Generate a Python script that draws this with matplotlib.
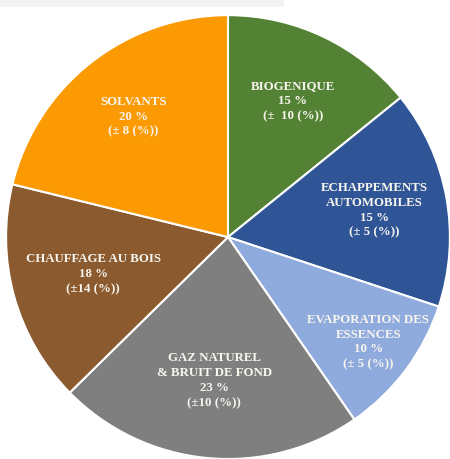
import numpy as np
import matplotlib
matplotlib.use('Agg')
import matplotlib.pyplot as plt
from matplotlib.patches import Rectangle

categories = ['BIOGENIQUE', 'ECHAPPEMENTS\nAUTOMOBILES', 'EVAPORATION DES\nESSENCES',
              'GAZ NATUREL\n& BRUIT DE FOND', 'CHAUFFAGE AU BOIS', 'SOLVANTS']
shares = [14.2, 15.9, 10.3, 22.3, 16.2, 21.2]
pct_labels = ['15 %', '15 %', '10 %', '23 %', '18 %', '20 %']
err_labels = ['(±  10 (%))', '(± 5 (%))', '(± 5 (%))', '(±10 (%))', '(±14 (%))', '(± 8 (%))']

colors = ['#548235', '#2F5597', '#8FAADC', '#7F7F7F', '#8B5A2E', '#FB9A02']
label_r = [0.68, 0.67, 0.79, 0.65, 0.63, 0.69]

fig = plt.figure(figsize=(4.5, 4.59), dpi=100)
fig.add_artist(Rectangle((0, 0.985), 0.63, 0.015, transform=fig.transFigure,
                         facecolor='#F2F2F2', edgecolor='none'))
ax = fig.add_axes([0.0133, 0.0, 0.9867, 0.967])

wedges, _ = ax.pie(shares, colors=colors, startangle=90, counterclock=False,
                   radius=1.0, wedgeprops=dict(edgecolor='white', linewidth=1.5))

for w, cat, p, e, r in zip(wedges, categories, pct_labels, err_labels, label_r):
    mid = np.deg2rad((w.theta1 + w.theta2) / 2)
    ax.text(r * np.cos(mid), r * np.sin(mid), '%s\n%s\n%s' % (cat, p, e),
            ha='center', va='center', color='#F7F5EE', fontsize=9.3,
            fontweight='bold', family='Liberation Serif', linespacing=1.32)

ax.set_xlim(-1, 1)
ax.set_ylim(-1, 1)
ax.axis('off')
fig.savefig('out.png', dpi=100)
